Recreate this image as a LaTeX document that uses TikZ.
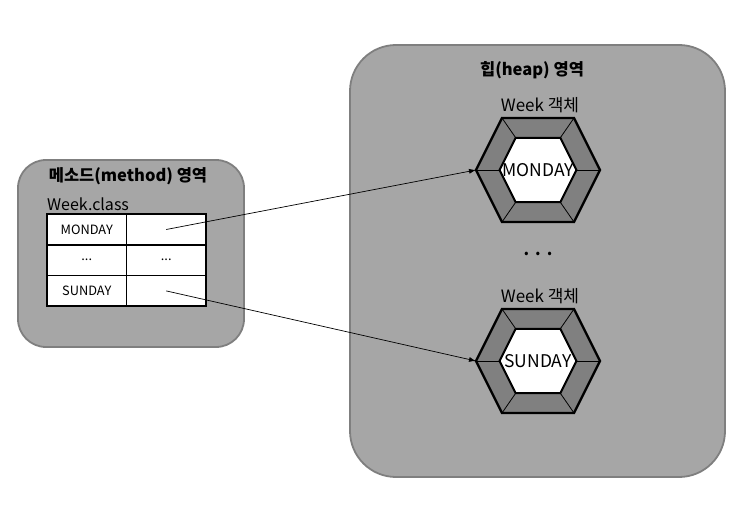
\documentclass[tikz,border=0pt]{standalone}
\usepackage{fontspec}
\setmainfont{Noto Sans CJK KR}
\usetikzlibrary{arrows.meta}
\definecolor{areafill}{HTML}{A6A6A6}
\definecolor{arealine}{HTML}{7F7F7F}
\definecolor{ringfill}{HTML}{808080}
\newcommand{\cw}{79.5pt}
\newcommand{\ch}{30.7pt}
% hexagon for one object: name, y, label
\newcommand{\weekobj}[3]{%
    \begin{scope}[shift={(538,#2)}]
        \filldraw[ring] (-62,0) -- (-36,-52) -- (36,-52) -- (62,0) -- (36,52) -- (-36,52) -- cycle;
        \foreach \a/\b in {-62/0,-36/-52,36/-52,62/0,36/52,-36/52}
            \draw[line width=0.8pt] (\a,\b) -- ({0.62*\a},{0.62*\b});
        \filldraw[core] (-38.4,0) -- (-22.3,-32.2) -- (22.3,-32.2) -- (38.4,0) -- (22.3,32.2) -- (-22.3,32.2) -- cycle;
    \end{scope}
    \node[objtext] (#1) at (538,#2) {#3};
    \coordinate (#1-in) at (476,#2);
    \node[title] (#1-title) at (540,{#2-65}) {Week 객체};
}

\begin{document}
\begin{tikzpicture}[x=1pt, y=-1pt,
    area/.style={draw=arealine, fill=areafill, line width=1.8pt},
    ring/.style={draw=black, fill=ringfill, line width=2.4pt, line join=miter},
    core/.style={draw=black, fill=white, line width=2pt, line join=miter},
    cell/.style={draw, fill=white, line width=1.6pt, minimum width=\cw, minimum height=\ch, inner sep=0pt, font=\fontsize{12.8}{14}\selectfont},
    head/.style={font=\fontsize{16.5}{19}\selectfont\bfseries},
    title/.style={font=\fontsize{17}{20}\selectfont},
    objtext/.style={font=\fontsize{17.5}{20}\selectfont, inner sep=0pt},
    link/.style={-{Latex[length=7pt,width=5pt]}, line width=0.7pt}]
    \useasboundingbox (0,0) rectangle (743,510);

    % areas
    \draw[area, rounded corners=46pt] (350,45) rectangle (725,477);
    \draw[area, rounded corners=28pt] (18,160) rectangle (244,347);
    \node[head] (heap) at (532,70) {힙(heap) 영역};
    \node[head] (method) at (128,176) {메소드(method) 영역};
    \node[title, anchor=west, inner sep=0pt, font=\fontsize{16}{19}\selectfont] (class) at (47,204) {Week.class};

    % Week.class table
    \node[cell] (mon-key) at (86.75,229.5) {MONDAY};
    \node[cell] (mon-ref) at (166.25,229.5) {};
    \node[cell] (etc-key) at (86.75,260.2) {...};
    \node[cell] (etc-ref) at (166.25,260.2) {...};
    \node[cell] (sun-key) at (86.75,290.9) {SUNDAY};
    \node[cell] (sun-ref) at (166.25,290.9) {};

    % objects
    \weekobj{mon}{170}{MONDAY}
    \weekobj{sun}{361}{SUNDAY}
    \node[title, anchor=base, inner sep=0pt, font=\fontsize{16}{16}\selectfont\bfseries] (dots) at (538,256) {.\hspace{6pt}.\hspace{6pt}.};

    \draw[link] (mon-ref.center) -- (mon-in);
    \draw[link] (sun-ref.center) -- (sun-in);
\end{tikzpicture}
\end{document}
